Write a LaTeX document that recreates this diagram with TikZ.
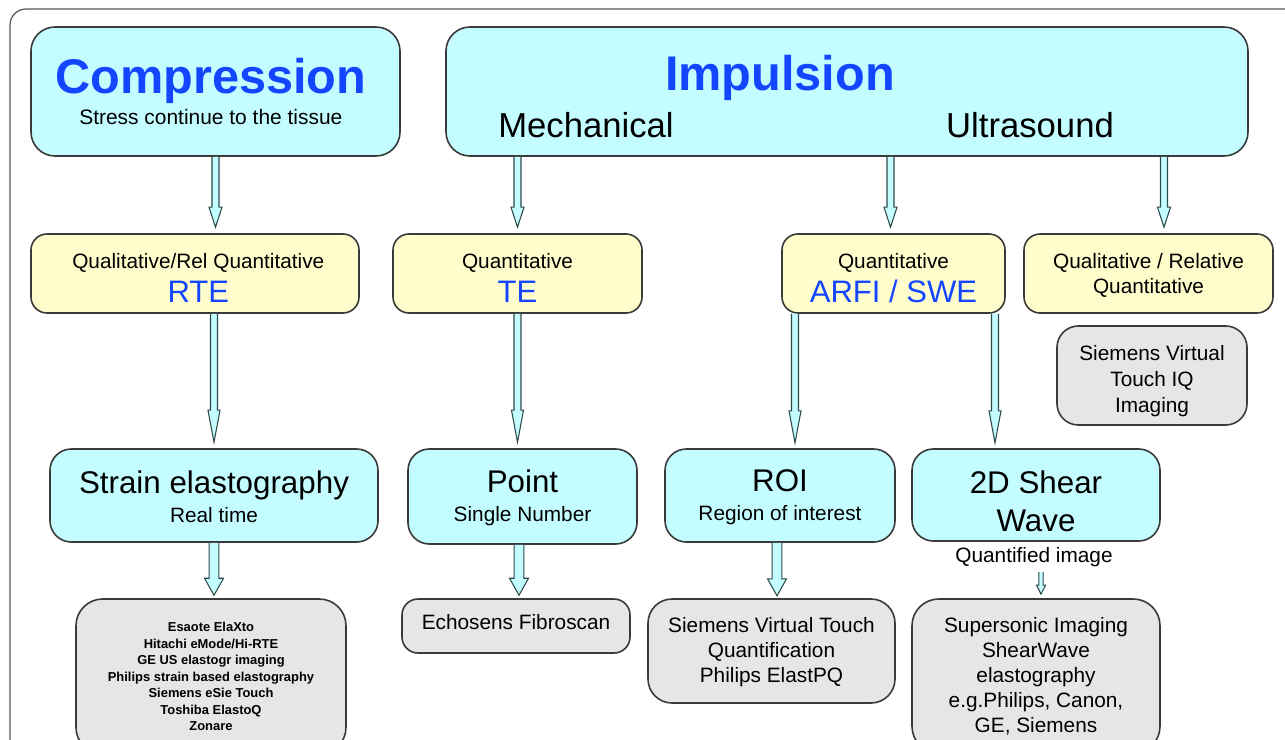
\documentclass[tikz,border=0pt]{standalone}
\usepackage{fontspec}
\setmainfont{Liberation Sans}
\usetikzlibrary{calc}
\definecolor{cyanfill}{HTML}{C4FDFF}
\definecolor{yelfill}{HTML}{FFFDCC}
\definecolor{grayfill}{HTML}{E6E6E6}
\definecolor{boxline}{HTML}{3A3A3A}
\definecolor{arrline}{HTML}{2E4A4A}
\definecolor{titleblue}{HTML}{1446FF}
\definecolor{framecol}{HTML}{555555}
\newcommand\fs[2]{\fontsize{#1}{#2}\selectfont}
\newcommand\lift[1]{\rule{0pt}{#1}}
\newcommand\barrow[5]{%
  \draw[arrowsty] let \p1=(#1), \p2=(#2) in
    ({\x1-#3*0.75pt},\y1) -- ({\x1-#3*0.75pt},{\y2+#5*0.75pt}) --
    ({\x1-#4*0.75pt},{\y2+#5*0.75pt}) -- (\x1,\y2) --
    ({\x1+#4*0.75pt},{\y2+#5*0.75pt}) -- ({\x1+#3*0.75pt},{\y2+#5*0.75pt}) --
    ({\x1+#3*0.75pt},\y1);}
\tikzset{
  boxbase/.style={draw=boxline, line width=1.2pt, align=center, inner sep=0pt, text=black},
  cbox/.style={boxbase, fill=cyanfill, rounded corners=18pt},
  ybox/.style={boxbase, fill=yelfill, rounded corners=12pt},
  gbox/.style={boxbase, fill=grayfill, rounded corners=16pt},
  txt/.style={inner sep=0pt, align=center},
  arrowsty/.style={draw=arrline, fill=cyanfill, line width=0.8pt, line join=miter},
}
\begin{document}
\begin{tikzpicture}[x=0.75pt, y=-0.75pt, font=\fs{15.6}{19}]
\useasboundingbox (0,0) rectangle (1285,739);
\clip (0,0) rectangle (1285,739);
\fill[white] (0,0) rectangle (1285,739);
% outer frame
\draw[framecol, line width=0.9pt, rounded corners=12pt] (10,9) rectangle (1320,780);

% top row
\node[cbox, minimum width=369*0.75pt, minimum height=129*0.75pt, font=\fs{15.7}{23.5}] (comp) at (215.5,91.5)
  {\hspace*{-7pt}{\fs{36.5}{40}\bfseries\color{titleblue}Compression}\\\hspace*{-7pt}Stress continue to the tissue};
\node[cbox, minimum width=802*0.75pt, minimum height=129*0.75pt] (imp) at (847,91.5) {};
\node[txt, font=\fs{36.5}{40}\bfseries, text=titleblue] (impt) at (780,78) {Impulsion};
\node[txt, font=\fs{26}{30}] (mech) at (586,125) {Mechanical};
\node[txt, font=\fs{26}{30}] (us) at (1030,125) {Ultrasound};

% yellow row
\node[ybox, minimum width=328*0.75pt, minimum height=79*0.75pt, font=\fs{15.6}{25.5}] (rte) at (195,273.5)
  {\lift{18.2pt}\hspace*{5pt}Qualitative/Rel Quantitative\\\hspace*{5pt}{\fs{23.3}{26}\color{titleblue}RTE}};
\node[ybox, minimum width=249*0.75pt, minimum height=79*0.75pt, font=\fs{15.6}{25.5}] (te) at (517.5,273.5)
  {\lift{18.2pt}Quantitative\\{\fs{23.3}{26}\color{titleblue}TE}};
\node[ybox, minimum width=223*0.75pt, minimum height=79*0.75pt, font=\fs{15.6}{25.5}] (arfi) at (893.5,273.5)
  {\lift{18.2pt}Quantitative\\{\fs{23.3}{26}\color{titleblue}ARFI / SWE}};
\node[ybox, minimum width=249*0.75pt, minimum height=79*0.75pt, font=\fs{15.6}{18.75}] (qr) at (1148.5,273.5)
  {\lift{13.5pt}Qualitative / Relative\\Quantitative};
\node[gbox, minimum width=190*0.75pt, minimum height=99*0.75pt, font=\fs{15.6}{19.5}] (vtiq) at (1152,375.5)
  {\lift{20.4pt}Siemens Virtual\\Touch IQ\\Imaging};

% cyan row 2
\node[cbox, rounded corners=16pt, minimum width=328*0.75pt, minimum height=93*0.75pt, font=\fs{15.6}{22}] (strain) at (214,495.5)
  {{\fs{23.5}{26}\lift{19pt}Strain elastography}\\Real time};
\node[cbox, rounded corners=16pt, minimum width=229*0.75pt, minimum height=95*0.75pt, font=\fs{15.6}{22}] (point) at (522.5,496.5)
  {{\fs{23.5}{26}\lift{19pt}Point}\\Single Number};
\node[cbox, rounded corners=16pt, minimum width=230*0.75pt, minimum height=93*0.75pt, font=\fs{15.6}{22}] (roi) at (780,495.5)
  {{\fs{23.5}{26}\lift{19pt}ROI}\\Region of interest};
\node[cbox, rounded corners=16pt, minimum width=248*0.75pt, minimum height=92*0.75pt, font=\fs{23.5}{28.5}] (shear) at (1036,495)
  {\lift{26.2pt}2D Shear\\Wave};
\node[txt] (quant) at (1034,557) {Quantified image};

% bottom row
\node[gbox, rounded corners=20pt, minimum width=270*0.75pt, minimum height=155*0.75pt, font=\fs{9.7}{12.4}\bfseries] (vend) at (211,676.5)
  {Esaote ElaXto\\Hitachi eMode/Hi-RTE\\GE US elastogr imaging\\Philips strain based elastography\\Siemens eSie Touch\\Toshiba ElastoQ\\Zonare};
\node[gbox, rounded corners=12pt, minimum width=228*0.75pt, minimum height=54*0.75pt] (fibro) at (516,626)
  {\rule[-6pt]{0pt}{6pt}Echosens Fibroscan};
\node[gbox, rounded corners=18pt, minimum width=247*0.75pt, minimum height=104*0.75pt] (vtq) at (771.5,651)
  {\lift{13pt}Siemens Virtual Touch\\Quantification\\Philips ElastPQ};
\node[gbox, rounded corners=20pt, minimum width=248*0.75pt, minimum height=154*0.75pt, font=\fs{15.6}{18.8}] (super) at (1036,676)
  {Supersonic Imaging\\ShearWave\\elastography\\e.g.Philips, Canon,\\GE, Siemens};

% arrows top
\barrow{comp.south}{[yshift=4.5pt]rte.north}{3.5}{6.5}{20}
\barrow{imp.south -| te.north}{[yshift=4.5pt]te.north}{3.5}{6.5}{20}
\barrow{$(imp.south -| arfi.north)+(-3,0)$}{[yshift=4.5pt]arfi.north}{3.5}{6.5}{20}
\barrow{$(imp.south -| qr.north)+(15.5,0)$}{[yshift=4.5pt]qr.north}{3.5}{6.5}{20}
% arrows middle
\barrow{rte.south -| strain.north}{[yshift=4.5pt]strain.north}{3.5}{6}{32}
\barrow{te.south}{[yshift=4.5pt]point.north}{3.5}{6}{32}
\barrow{$(arfi.south)+(-98.5,0)$}{[yshift=4pt]roi.north}{3.5}{6}{32}
\barrow{$(arfi.south)+(101.5,0)$}{[yshift=4pt]shear.north}{3.5}{6}{32}
% arrows bottom
\barrow{strain.south}{[yshift=2.2pt]vend.north}{4.8}{9.5}{17}
\barrow{$(point.south)+(-3.5,0)$}{[yshift=2.2pt]fibro.north}{4.8}{9.5}{17}
\barrow{$(roi.south)+(-3,0)$}{[yshift=1.8pt]vtq.north}{4.8}{9.5}{17}
\barrow{$(quant.south)+(7,5)$}{[yshift=3pt]super.north}{2.2}{4.5}{9}
\end{tikzpicture}
\end{document}
